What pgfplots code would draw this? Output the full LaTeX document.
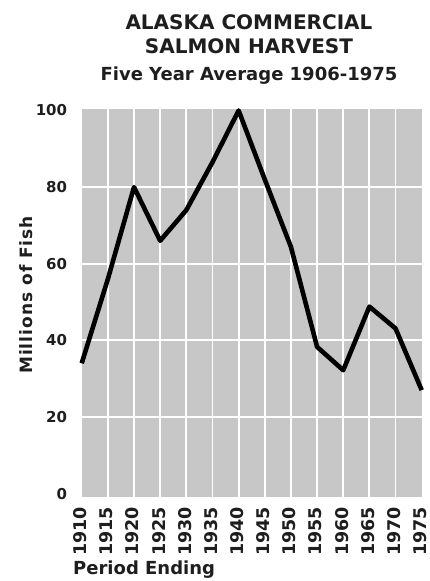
\documentclass[border=0pt]{standalone}
\usepackage{fontspec}
\setmainfont{DejaVu Sans}
\newfontfamily\ylabfont{DejaVu Sans}[LetterSpace=6.0]
\usepackage{pgfplots}
\pgfplotsset{compat=1.18}
\definecolor{bggray}{RGB}{199,199,199}
\definecolor{txt}{RGB}{30,30,30}
\begin{document}
\begin{tikzpicture}
\path[use as bounding box] (0,0) rectangle (430pt,581pt);
\begin{axis}[
  at={(81.7pt,84pt)}, anchor=south west,
  scale only axis, width=340pt, height=388.4pt,
  xmin=1910, xmax=1975, ymin=-0.9, ymax=100.5,
  axis background/.style={fill=bggray},
  axis line style={draw=none},
  major tick length=0pt,
  tick style={draw=none},
  xtick={1915,1920,1925,1930,1935,1940,1945,1950,1955,1960,1965,1970},
  xticklabels={1915,1920,1925,1930,1935,1940,1945,1950,1955,1960,1965,1970},
  extra x ticks={1910,1975},
  extra x tick labels={1910,1975},
  ytick={20,40,60,80},
  yticklabels={20,40,60,80},
  extra y ticks={0,100},
  extra y tick labels={0,100},
  extra x tick style={grid=none},
  extra y tick style={grid=none},
  grid=major,
  major grid style={white, line width=1.8pt},
  xticklabel style={font=\bfseries\fontsize{17.5}{17.5}\selectfont, text=txt, rotate=90, anchor=east, inner sep=0pt, xshift=-10pt, yshift=1.5pt},
  yticklabel style={font=\bfseries\fontsize{15}{15}\selectfont, text=txt, anchor=east, inner sep=0pt, xshift=-14.4pt},
  /pgf/number format/1000 sep={},
  xlabel={Period Ending},
  xlabel style={font=\bfseries\fontsize{18}{18}\selectfont, text=txt, at={(axis description cs:-0.0256,-0.2008)}, anchor=base west, inner sep=0pt},
  ylabel={Millions of Fish},
  ylabel style={font=\ylabfont\bfseries\fontsize{17}{17}\selectfont, text=txt, at={(axis description cs:-0.1453,0.5203)}, anchor=base, inner sep=0pt},
  clip=false,
]
\addplot[black, line width=4.6pt, line join=round] coordinates {
  (1910,34) (1915,56) (1920,80) (1925,66) (1930,74) (1935,86.5)
  (1940,100) (1945,82) (1950,64.4) (1955,38.3) (1960,32.2)
  (1965,48.8) (1970,43.1) (1975,27)
};
\node[anchor=base, font=\bfseries\fontsize{20}{20}\selectfont, text=txt, inner sep=0pt] at (axis description cs:0.492,1.2049) {ALASKA COMMERCIAL};
\node[anchor=base, font=\bfseries\fontsize{20}{20}\selectfont, text=txt, inner sep=0pt] at (axis description cs:0.492,1.1424) {SALMON HARVEST};
\node[anchor=base, font=\bfseries\fontsize{18}{18}\selectfont, text=txt, inner sep=0pt] at (axis description cs:0.492,1.0711) {Five Year Average 1906-1975};
\end{axis}
\end{tikzpicture}
\end{document}
